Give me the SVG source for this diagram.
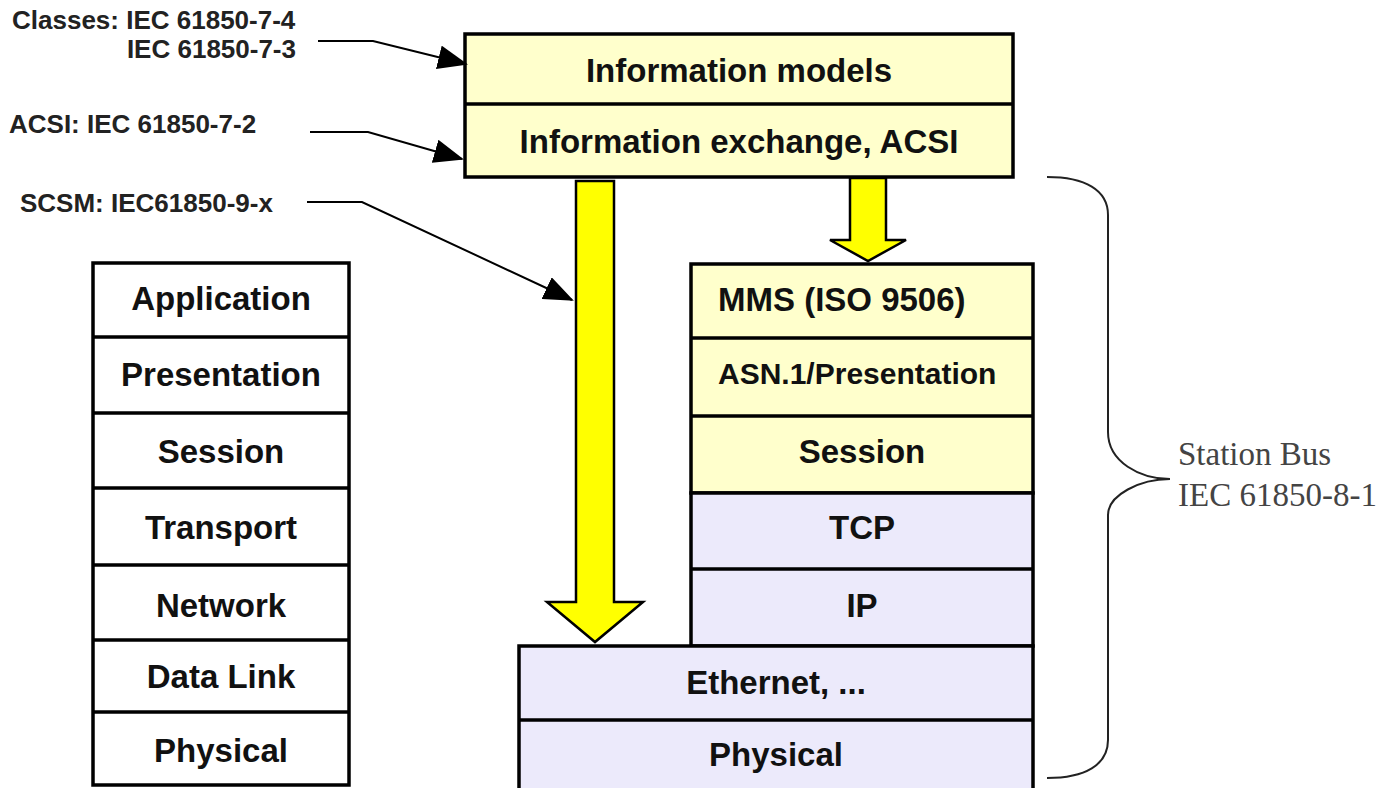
<svg xmlns="http://www.w3.org/2000/svg" width="1387" height="788" viewBox="0 0 1387 788">
<defs>
<style>
.box{stroke:#000;stroke-width:3.5}
.y{fill:#FFFFCC}
.l{fill:#ECEAFB}
.w{fill:#FFFFFF}
.t{font-family:"Liberation Sans",Arial,sans-serif;font-weight:bold;font-size:33px;fill:#111}
.lab{font-family:"Liberation Sans",Arial,sans-serif;font-weight:bold;font-size:26px;fill:#222}
.serif{font-family:"Liberation Serif","Times New Roman",serif;font-size:33px;fill:#444}
.conn{fill:none;stroke:#000;stroke-width:2}
.yarrow{fill:#FFFF00;stroke:#000;stroke-width:2.5;stroke-linejoin:miter}
</style>
<marker id="ah" viewBox="0 0 30 24" refX="28" refY="12" markerWidth="30" markerHeight="24" markerUnits="userSpaceOnUse" orient="auto">
<path d="M0,0 L30,12 L0,24 Z" fill="#000"/>
</marker>
</defs>
<rect width="1387" height="788" fill="#fff"/>

<g id="osi-stack">
<rect class="box w" x="93" y="263" width="256" height="522"/>
<line class="box" x1="93" y1="337" x2="349" y2="337"/>
<line class="box" x1="93" y1="413" x2="349" y2="413"/>
<line class="box" x1="93" y1="488" x2="349" y2="488"/>
<line class="box" x1="93" y1="565" x2="349" y2="565"/>
<line class="box" x1="93" y1="640" x2="349" y2="640"/>
<line class="box" x1="93" y1="712" x2="349" y2="712"/>
<text class="t" x="221" y="310" text-anchor="middle">Application</text>
<text class="t" x="221" y="386" text-anchor="middle">Presentation</text>
<text class="t" x="221" y="463" text-anchor="middle">Session</text>
<text class="t" x="221" y="539" text-anchor="middle">Transport</text>
<text class="t" x="221" y="617" text-anchor="middle">Network</text>
<text class="t" x="221" y="688" text-anchor="middle">Data Link</text>
<text class="t" x="221" y="762" text-anchor="middle">Physical</text>
</g>

<g id="top-box">
<rect class="box y" x="465" y="34" width="548" height="143"/>
<line class="box" x1="465" y1="104" x2="1013" y2="104"/>
<text class="t" x="739" y="82" text-anchor="middle">Information models</text>
<text class="t" x="739" y="153" text-anchor="middle">Information exchange, ACSI</text>
</g>

<g id="mms-stack">
<rect class="box y" x="691" y="264" width="342" height="229"/>
<rect class="box l" x="691" y="493" width="342" height="153"/>
<line class="box" x1="691" y1="338" x2="1033" y2="338"/>
<line class="box" x1="691" y1="416" x2="1033" y2="416"/>
<line class="box" x1="691" y1="569" x2="1033" y2="569"/>
<text class="t" x="718" y="311">MMS (ISO 9506)</text>
<text class="t" x="718" y="384" style="font-size:30px">ASN.1/Presentation</text>
<text class="t" x="862" y="463" text-anchor="middle">Session</text>
<text class="t" x="862" y="539" text-anchor="middle">TCP</text>
<text class="t" x="862" y="617" text-anchor="middle">IP</text>
</g>

<g id="ethernet-stack">
<rect class="box l" x="519" y="646" width="514" height="150"/>
<line class="box" x1="519" y1="720" x2="1033" y2="720"/>
<text class="t" x="776" y="694" text-anchor="middle">Ethernet, ...</text>
<text class="t" x="776" y="766" text-anchor="middle">Physical</text>
</g>

<g id="labels">
<text class="lab" x="12" y="29">Classes: IEC 61850-7-4</text>
<text class="lab" x="296" y="58" text-anchor="end">IEC 61850-7-3</text>
<text class="lab" x="9" y="133">ACSI: IEC 61850-7-2</text>
<text class="lab" x="20" y="212">SCSM: IEC61850-9-x</text>
<text class="serif" x="1178" y="465">Station Bus</text>
<text class="serif" x="1178" y="506">IEC 61850-8-1</text>
</g>

<g id="connectors">
<path class="yarrow" d="M576,181 L614,181 L614,602 L643,602 L595,642 L547,602 L576,602 Z"/>
<path class="yarrow" d="M850,178 L886,178 L886,240 L906,240 L868,261 L830,240 L850,240 Z"/>
<path class="conn" d="M318,41 L373,41 L466,64" marker-end="url(#ah)"/>
<path class="conn" d="M310,132 L368,132 L462,159" marker-end="url(#ah)"/>
<path class="conn" d="M307,202 L362,202 L572,300" marker-end="url(#ah)"/>
<path class="conn" d="M1047,177 C1085,177 1108,190 1108,215 L1108,432 C1108,462 1140,479 1170,479 C1140,479 1108,495 1108,515 L1108,740 C1108,765 1085,778 1047,778" style="stroke:#222"/>
</g>
</svg>
